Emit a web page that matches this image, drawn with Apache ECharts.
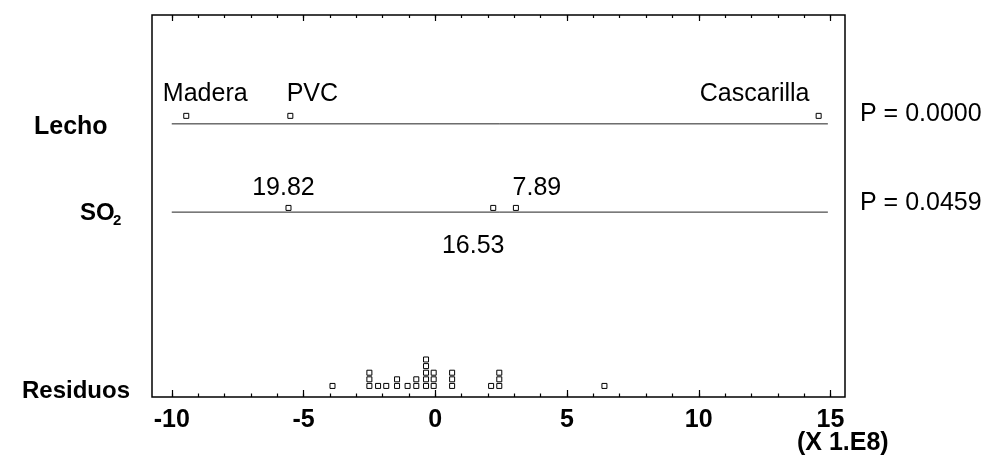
<!DOCTYPE html>
<html>
<head>
<meta charset="utf-8">
<script src="https://cdn.jsdelivr.net/npm/echarts@6/dist/echarts.min.js"></script>
<style>
  html, body { margin: 0; padding: 0; background: #fff; }
  #chart { width: 991px; height: 460px; }
</style>
</head>
<body>
<div id="chart"></div>
<script>
// ANOVA graphical summary: scaled effects (x 1e8) for each factor, plus residuals.
const lechoLevels = ['Madera', 'PVC', 'Cascarilla'];
const lechoEffects = [-9.45, -5.50, 14.55];
const so2Means = ['19.82', '16.53', '7.89'];
const so2Effects = [-5.57, 2.20, 3.06];
const residuals = [
  -3.90,
  -2.50, -2.50, -2.50,
  -2.17, -1.86,
  -1.45, -1.45,
  -1.05,
  -0.72, -0.72,
  -0.35, -0.35, -0.35, -0.35, -0.35,
  -0.06, -0.06, -0.06,
  0.64, 0.64, 0.64,
  2.12,
  2.43, 2.43, 2.43,
  6.42
];
const factorRows = ['Lecho', 'SO', 'Residuos'];
const pValues = ['P = 0.0000', 'P = 0.0459'];
const lineExtent = [-10, 14.9];
const majorTicks = [-10, -5, 0, 5, 10, 15];
const minorTicks = [-10, -9, -8, -7, -6, -5, -4, -3, -2, -1, 0, 1, 2, 3, 4, 5, 6, 7, 8, 9, 10, 11, 12, 13, 14, 15];
const scaleNote = '(X 1.E8)';

// Vertical placement of each row on a 0..100 helper axis
const ROW = { lechoLine: 71.5, lechoPts: 73.6, so2Line: 48.4, so2Pts: 49.5, resBase: 2.9, resStep: 1.73 };
// Label offsets (px) relative to each point
const lechoLabelOffset = [[19, -22], [22, -22], [-64, -22]];
const so2LabelOffset = [[-5, -20], [-20, 38], [21, -20]];

const FONT = 'Liberation Sans, Arial, sans-serif';
const INK = '#000';

// Stack residuals that fall in the same column
const seen = {};
const residualPoints = residuals.map(v => {
  const key = v.toFixed(2);
  const k = seen[key] || 0;
  seen[key] = k + 1;
  return [v, ROW.resBase + k * ROW.resStep];
});

const squareStyle = { color: '#fff', borderColor: INK, borderWidth: 1, opacity: 1 };
const pointLabel = { show: true, position: 'inside', color: '#000', fontFamily: FONT, fontSize: 25, textBorderWidth: 0 };

function makeAxis(position, ticks, len, labels) {
  return {
    type: 'value', position: position, min: -10.75, max: 15.55,
    axisLine: { show: false },
    splitLine: { show: false },
    axisTick: { show: true, inside: true, length: len, customValues: ticks, lineStyle: { color: INK, width: 1.2 } },
    axisLabel: labels ? {
      show: true, customValues: majorTicks, color: '#000', fontFamily: FONT, fontWeight: 'bold', fontSize: 25, margin: 11,
      formatter: v => String(v)
    } : { show: false }
  };
}

const chart = echarts.init(document.getElementById('chart'), null, { renderer: 'canvas' });
chart.setOption({
  animation: false,
  backgroundColor: '#fff',
  grid: { left: 152, right: 146, top: 15, bottom: 63, show: true, borderColor: INK, borderWidth: 1.5, backgroundColor: 'transparent' },
  xAxis: [
    makeAxis('bottom', majorTicks, 7, true),
    makeAxis('bottom', minorTicks, 3.5, false),
    makeAxis('top', majorTicks, 6, false),
    makeAxis('top', minorTicks, 3, false)
  ],
  yAxis: { type: 'value', min: 0, max: 100, show: false },
  series: [
    {
      type: 'line', symbol: 'none', silent: true,
      data: lineExtent.map(x => [x, ROW.lechoLine]),
      lineStyle: { color: '#222', width: 1 }
    },
    {
      type: 'line', symbol: 'none', silent: true,
      data: lineExtent.map(x => [x, ROW.so2Line]),
      lineStyle: { color: '#222', width: 1 }
    },
    {
      type: 'scatter', symbol: 'rect', symbolSize: 5,
      itemStyle: squareStyle,
      data: lechoEffects.map((x, i) => ({
        value: [x, ROW.lechoPts],
        label: Object.assign({}, pointLabel, { offset: lechoLabelOffset[i], formatter: lechoLevels[i] })
      }))
    },
    {
      type: 'scatter', symbol: 'rect', symbolSize: 5,
      itemStyle: squareStyle,
      data: so2Effects.map((x, i) => ({
        value: [x, ROW.so2Pts],
        label: Object.assign({}, pointLabel, { offset: so2LabelOffset[i], formatter: so2Means[i] })
      }))
    },
    {
      type: 'scatter', symbol: 'rect', symbolSize: 5,
      itemStyle: squareStyle,
      data: residualPoints
    }
  ],
  graphic: [
    { type: 'text', left: 34, top: 115, style: { text: factorRows[0], font: 'bold 25px ' + FONT, fill: '#000' } },
    { type: 'text', left: 80, top: 201, style: { text: factorRows[1], font: 'bold 24px ' + FONT, fill: '#000' } },
    { type: 'text', left: 113, top: 213, style: { text: '2', font: 'bold 15px ' + FONT, fill: '#000' } },
    { type: 'text', left: 22, top: 379, style: { text: factorRows[2], font: 'bold 24px ' + FONT, fill: '#000' } },
    { type: 'text', left: 860, top: 102, style: { text: pValues[0], font: '25px ' + FONT, fill: '#000' } },
    { type: 'text', left: 860, top: 191, style: { text: pValues[1], font: '25px ' + FONT, fill: '#000' } },
    { type: 'text', left: 797, top: 431, style: { text: scaleNote, font: 'bold 25px ' + FONT, fill: '#000' } }
  ]
});
</script>
</body>
</html>
